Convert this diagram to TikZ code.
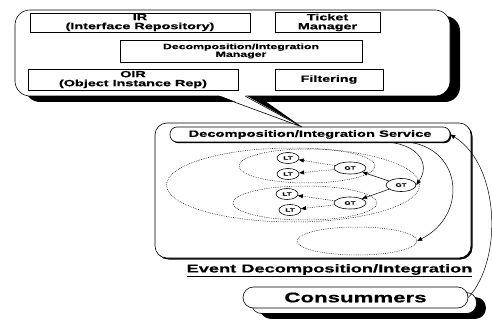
\documentclass[tikz,border=0pt]{standalone}
\usepackage{fontspec}
\newfontfamily\wf[FakeStretch=1.6,FakeBold=0.6]{Liberation Sans}
\newcommand\Fz[1]{\wf\bfseries\fontsize{#1}{#1}\selectfont}
\usetikzlibrary{arrows.meta,shapes.geometric,shadows}
\begin{document}
\begin{tikzpicture}[x=1pt,y=-1pt,line width=0.6pt,
  ibox/.style={draw, fill=white, inner sep=1pt, align=center,
    general shadow={fill=black, shadow xshift=1.2pt, shadow yshift=-1.2pt}},
  tnode/.style={draw, ellipse, fill=white, inner sep=0pt, font=\Fz{5}},
  dots/.style={draw, dash pattern=on 0.7pt off 1.1pt, line width=0.5pt, ellipse, inner sep=0pt},
  arr/.style={-{Triangle[length=5pt,width=4pt]}},
  dotarr/.style={arr, dash pattern=on 0.7pt off 1.1pt, line width=0.5pt},
]
\fill[white] (0,0) rectangle (492,320);
\useasboundingbox (0,0) rectangle (492,320);

% lower box
\draw[rounded corners=12pt, fill=white,
  general shadow={fill=black, shadow xshift=1.5pt, shadow yshift=-1.5pt}]
  (155,123) rectangle (471,258);
\node[draw, fill=white, rounded corners=7pt, minimum width=280pt, minimum height=15pt,
  inner sep=0pt, font=\Fz{9.2},
  general shadow={fill=black, shadow xshift=1.2pt, shadow yshift=-1.2pt}]
  (svc) at (310,134.5) {Decomposition/Integration Service};

% dotted groups
\node[dots, minimum width=253pt, minimum height=74pt] (e0) at (293,185) {};
\node[dots, minimum width=136pt, minimum height=34pt] (e1) at (307,166) {};
\node[dots, minimum width=144pt, minimum height=34pt] (e2) at (305,203) {};
\node[dots, minimum width=120pt, minimum height=28pt] (e3) at (357,241) {};

% task nodes
\node[tnode, minimum width=22pt, minimum height=11pt] (lt1) at (288,158) {LT};
\node[tnode, minimum width=22pt, minimum height=11pt] (lt2) at (288,174) {LT};
\node[tnode, minimum width=22pt, minimum height=11pt] (lt3) at (287,194) {LT};
\node[tnode, minimum width=22pt, minimum height=11pt] (lt4) at (290,210) {LT};
\node[tnode, minimum width=32pt, minimum height=12pt] (gt1) at (350,168) {GT};
\node[tnode, minimum width=32pt, minimum height=12pt] (gt2) at (350,203) {GT};
\node[tnode, minimum width=30pt, minimum height=13pt] (gt3) at (401,185) {GT};

\draw[dotarr] (gt1) -- (lt1);
\draw[dotarr] (gt1) -- (lt2);
\draw[dotarr] (gt2) -- (lt3);
\draw[dotarr] (gt2) -- (lt4);
\draw[arr, line width=0.5pt] (gt3) -- (gt1);
\draw[arr, line width=0.5pt] (gt3) -- (gt2);
\draw[arr, line width=0.5pt] ([xshift=80pt]svc.south) .. controls (420,146) and (430,165) .. (gt3.east);
\draw[arr, line width=0.5pt] ([xshift=100pt]svc.south) .. controls (462,150) and (468,215) .. (e3.east);

\node[font=\Fz{11.4}, inner sep=0pt] (lbl) at (329.5,270.5) {\underline{Event Decomposition/Integration}};

% consumers
\node[draw, fill=black, rounded corners=10pt, minimum width=225pt, minimum height=21pt] (cb) at (373,308) {};
\node[draw, fill=white, rounded corners=10pt, minimum width=225pt, minimum height=21pt] (cm) at (364,303) {};
\node[draw, fill=white, rounded corners=10.5pt, minimum width=225pt, minimum height=21pt,
  inner sep=0pt, font=\Fz{13.9}] (cons) at (355.5,297.5) {Consummers};
\draw[arr, line width=0.5pt] (cons.east) .. controls (503,260) and (500,165) .. (svc.east);

% top callout
\fill[black, rounded corners=15pt] (25,16) rectangle (460,102);
\fill[black] (245,96) -- (258,96) -- (302,127) -- cycle;
\draw[fill=white, rounded corners=15pt] (15,10) rectangle (450,96);
\fill[white] (218,95) -- (245,95) -- (302,127) -- cycle;
\draw (218,96) -- (302,127) -- (245,96);

\node[ibox, minimum width=220pt, minimum height=19pt, font=\Fz{9}] (ir) at (140,22.5) {IR\\(Interface Repository)};
\node[ibox, minimum width=105pt, minimum height=19pt, font=\Fz{9}] (tm) at (327.5,22.5) {Ticket\\Manager};
\node[ibox, minimum width=242pt, minimum height=22pt, font=\Fz{7.7}] (dim) at (241,51) {Decomposition/Integration\\Manager};
\node[ibox, minimum width=210pt, minimum height=21pt, font=\Fz{9}] (oir) at (133,79.5) {OIR\\(Object Instance Rep)};
\node[ibox, minimum width=108pt, minimum height=21pt, font=\Fz{9}] (flt) at (329,79.5) {Filtering};
\end{tikzpicture}
\end{document}
